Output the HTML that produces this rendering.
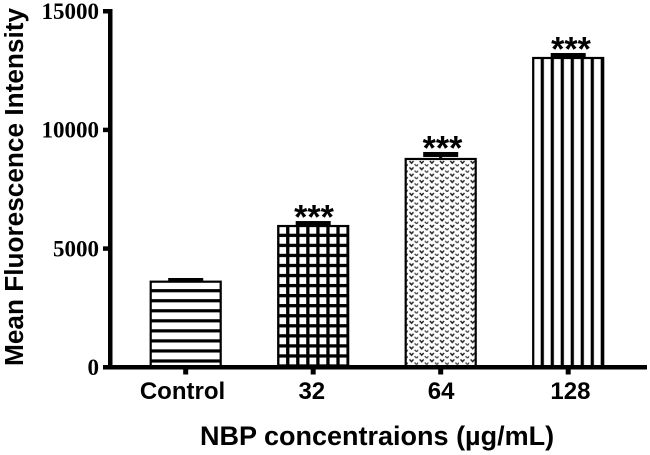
<!DOCTYPE html>
<html>
<head>
<meta charset="utf-8">
<style>
html,body{margin:0;padding:0;background:#fff;}
svg{display:block;}
text{fill:#000;}
.ytick{font:bold 23px "Liberation Serif",serif;text-anchor:end;}
.xtick{font:bold 24px "Liberation Sans",sans-serif;text-anchor:middle;}
.title{font:bold 26.2px "Liberation Sans",sans-serif;}
.xtitle{font:bold 27px "Liberation Sans",sans-serif;}
.star{font:bold 34px "Liberation Sans",sans-serif;text-anchor:middle;}
</style>
</head>
<body>
<svg id="chart" width="650" height="455" viewBox="0 0 650 455" xmlns="http://www.w3.org/2000/svg">
<defs>
<pattern id="p-h" width="10" height="10.04" patternUnits="userSpaceOnUse" y="289.1"><rect width="10" height="3.2" fill="#000"/></pattern>
<pattern id="p-grid" width="10.05" height="10.05" patternUnits="userSpaceOnUse" x="286.1" y="233.7"><rect width="10.05" height="3.3" fill="#000"/><rect width="3.3" height="10.05" fill="#000"/></pattern>
<pattern id="p-dot" width="10.2" height="6.4" patternUnits="userSpaceOnUse"><path d="M1.5 1 L3.5 3.2 L5.5 1" fill="none" stroke="#222" stroke-width="1.5"/><path d="M6.6 4.2 L8.6 6.2 L10.2 4.2" fill="none" stroke="#444" stroke-width="1.3"/></pattern>
<pattern id="p-v" width="10" height="10" patternUnits="userSpaceOnUse" x="540.7"><rect width="3.2" height="10" fill="#000"/></pattern>
</defs>
<g id="bars"></g>
<g id="axes"></g>
<text class="title" transform="translate(23,366) rotate(-90)">Mean Fluorescence Intensity</text>
<text class="xtitle" x="200" y="445">NBP concentraions (µg/mL)</text>
</svg>
<script>
const categories = ['Control', '32', '64', '128'];
const means = [3595, 5940, 8765, 13020];
const errors = [155, 210, 295, 210];
const significance = ['', '***', '***', '***'];
const fills = ['url(#p-h)', 'url(#p-grid)', 'url(#p-dot)', 'url(#p-v)'];
const yTicks = [0, 5000, 10000, 15000];
const yTickLabels = ['0', '5000', '10000', '15000'];

const NS = 'http://www.w3.org/2000/svg';
const Y0 = 367, YPX = 356 / 15000;
const X0 = 185.7, STEP = 127.5, BARW = 70;
const LABEL_X0 = 182.5, LABEL_STEP = 129.3;
const STAR_X0 = 185.5, STAR_STEP = 128.5;
function yScale(v) { return Y0 - v * YPX; }
function xScale(i) { return X0 + i * STEP; }
function make(parent, tag, attrs) {
  const el = document.createElementNS(NS, tag);
  for (const k in attrs) el.setAttribute(k, attrs[k]);
  parent.appendChild(el);
  return el;
}
const bars = document.getElementById('bars');
const axes = document.getElementById('axes');

categories.forEach(function (c, i) {
  const cx = xScale(i);
  const top = yScale(means[i]);
  const errTop = yScale(means[i] + errors[i]);

  const stem = make(bars, 'rect', { x: cx - 1.5, y: errTop, width: 3, height: top - errTop, fill: '#000' });
  
  

  const cap = make(bars, 'rect', { x: cx - 17.5, y: errTop, width: 35, height: 5, fill: '#000' });
  
  

  const bg = make(bars, 'rect', { x: cx - BARW / 2, y: top, width: BARW, height: Y0 - top, fill: '#fff' });
  
  

  const bar = make(bars, 'rect', { x: cx - BARW / 2, y: top, width: BARW, height: Y0 - top, fill: fills[i], stroke: '#000', 'stroke-width': 2.2 });
  
  

  if (significance[i]) {
    const s = make(bars, 'text', { x: STAR_X0 + i * STAR_STEP, y: errTop + 7.5, class: 'star' });
    s.textContent = significance[i];
    
    
  }

  const tick = make(axes, 'rect', { x: cx - 2.5, y: Y0, width: 5, height: 7.5, fill: '#000' });
  
  

  const lab = make(axes, 'text', { x: LABEL_X0 + i * LABEL_STEP, y: 399, class: 'xtick' });
  lab.textContent = c;
  
  
});

const yAxis = make(axes, 'rect', { x: 108, y: yScale(15000) - 2, width: 4.5, height: Y0 - yScale(15000) + 4, fill: '#000' });



const xAxis = make(axes, 'rect', { x: 103, y: Y0 - 2, width: 544, height: 4.5, fill: '#000' });



yTicks.forEach(function (t, i) {
  const y = yScale(t);
  const tick = make(axes, 'rect', { x: 103, y: y - 2, width: 6, height: 4.5, fill: '#000' });
  
  
  const lab = make(axes, 'text', { x: 99, y: y + 8, class: 'ytick' });
  lab.textContent = yTickLabels[i];
  
  
});
</script>
</body>
</html>
